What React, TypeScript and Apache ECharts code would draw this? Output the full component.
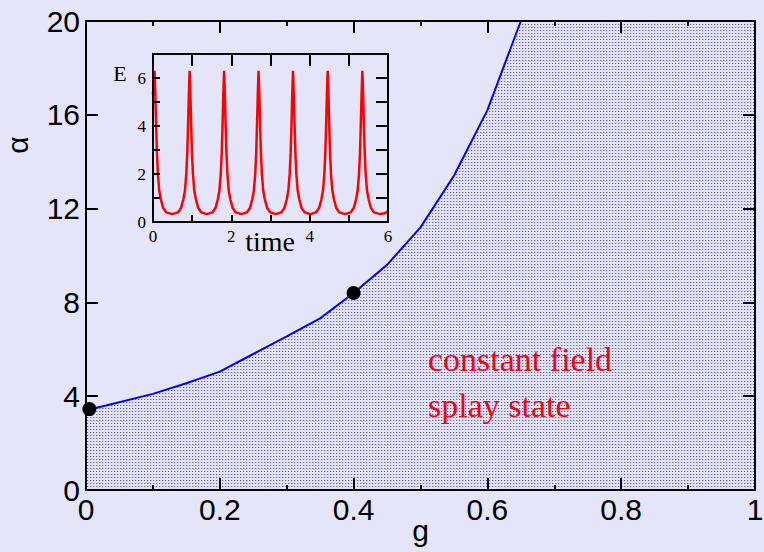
import React, { useEffect, useRef } from "react";
import * as echarts from "echarts";

// Main phase-boundary curve (g, alpha)
const boundaryG = [0, 0.03, 0.1, 0.15, 0.2, 0.25, 0.3, 0.35, 0.4, 0.45, 0.5, 0.55, 0.6, 0.65, 0.7, 1.0];
const boundaryAlpha = [3.4, 3.6, 4.1, 4.55, 5.05, 5.8, 6.55, 7.32, 8.4, 9.6, 11.2, 13.4, 16.2, 20.0, 24.5, 40.0];

// Highlighted points
const markedG = [0.005, 0.4];
const markedAlpha = [3.45, 8.4];

// Inset: energy vs time
const insetTime = [
  0, 0.02, 0.04, 0.06, 0.08, 0.1, 0.125, 0.16, 0.2, 0.26, 0.34, 0.49,
  0.635, 0.715, 0.775, 0.815, 0.85, 0.875, 0.895, 0.915, 0.935, 0.955, 0.975, 0.995, 1.02, 1.055, 1.095, 1.155, 1.235, 1.375,
  1.515, 1.595, 1.655, 1.695, 1.73, 1.755, 1.775, 1.795, 1.815, 1.835, 1.855, 1.875, 1.9, 1.935, 1.975, 2.035, 2.115, 2.255,
  2.395, 2.475, 2.535, 2.575, 2.61, 2.635, 2.655, 2.675, 2.695, 2.715, 2.735, 2.755, 2.78, 2.815, 2.855, 2.915, 2.995, 3.135,
  3.275, 3.355, 3.415, 3.455, 3.49, 3.515, 3.535, 3.555, 3.575, 3.595, 3.615, 3.635, 3.66, 3.695, 3.735, 3.795, 3.875, 4.015,
  4.16, 4.24, 4.3, 4.34, 4.375, 4.4, 4.42, 4.44, 4.46, 4.48, 4.5, 4.52, 4.545, 4.58, 4.62, 4.68, 4.76, 4.9,
  5.045, 5.125, 5.185, 5.225, 5.26, 5.285, 5.305, 5.325, 5.345, 5.365, 5.385, 5.405, 5.43, 5.465, 5.505, 5.565, 5.645, 5.8, 5.92, 6.0,
];
const insetEnergy = [
  5.3, 6.0, 6.3, 5.3, 4.0, 2.9, 2.0, 1.3, 0.95, 0.58, 0.4, 0.33,
  0.4, 0.58, 0.95, 1.3, 2.0, 2.9, 4.0, 5.3, 6.3, 5.3, 4.0, 2.9, 2.0, 1.3, 0.95, 0.58, 0.4, 0.33,
  0.4, 0.58, 0.95, 1.3, 2.0, 2.9, 4.0, 5.3, 6.3, 5.3, 4.0, 2.9, 2.0, 1.3, 0.95, 0.58, 0.4, 0.33,
  0.4, 0.58, 0.95, 1.3, 2.0, 2.9, 4.0, 5.3, 6.3, 5.3, 4.0, 2.9, 2.0, 1.3, 0.95, 0.58, 0.4, 0.33,
  0.4, 0.58, 0.95, 1.3, 2.0, 2.9, 4.0, 5.3, 6.3, 5.3, 4.0, 2.9, 2.0, 1.3, 0.95, 0.58, 0.4, 0.33,
  0.4, 0.58, 0.95, 1.3, 2.0, 2.9, 4.0, 5.3, 6.3, 5.3, 4.0, 2.9, 2.0, 1.3, 0.95, 0.58, 0.4, 0.33,
  0.4, 0.58, 0.95, 1.3, 2.0, 2.9, 4.0, 5.3, 6.3, 5.3, 4.0, 2.9, 2.0, 1.3, 0.95, 0.58, 0.4, 0.33, 0.36, 0.44,
];

const annotationLines = ["constant field", "splay state"];

const BG = "#e5e5f9";
const SANS = "'Liberation Sans', Arial, sans-serif";
const SERIF = "'Liberation Serif', 'Times New Roman', serif";

// layout
const MAIN = { left: 86, top: 21, width: 669, height: 469 };
const INSET = { left: 153, top: 54, width: 235, height: 168 };

function makePattern(): HTMLCanvasElement {
  const c = document.createElement("canvas");
  c.width = 3;
  c.height = 3;
  const ctx = c.getContext("2d")!;
  ctx.fillStyle = BG;
  ctx.fillRect(0, 0, 3, 3);
  ctx.fillStyle = "rgb(95,95,245)";
  ctx.fillRect(0, 0, 1, 1);
  ctx.fillStyle = "rgb(190,190,248)";
  ctx.fillRect(1, 0, 1, 1);
  return c;
}

export default function App() {
  const ref = useRef<HTMLDivElement>(null);

  useEffect(() => {
    if (!ref.current) return;
    const chart = echarts.init(ref.current, null, { renderer: "svg" });

    const mainData = boundaryG.map((g, i) => [g, boundaryAlpha[i]]);
    const dots = markedG.map((g, i) => [g, markedAlpha[i]]);
    const insetData = insetTime.map((t, i) => [t, insetEnergy[i]]);

    const line = { show: true, onZero: false, lineStyle: { color: "#000", width: 2 } };
    const noLine = { show: false, onZero: false };
    const tick = (len: number) => ({ show: true, length: len, lineStyle: { color: "#000", width: 2 } });
    const minor = (len: number) => ({ show: true, splitNumber: 2, length: len, lineStyle: { color: "#000", width: 2 } });
    const hidden = { show: false };

    // axis placed on the opposite side (negative offset) so that its outward ticks point into the grid
    const xTickAxis = (grid: number, pos: "top" | "bottom", h: number, min: number, max: number, interval: number, len: number, mlen: number, showLine: boolean) => ({
      type: "value", gridIndex: grid, position: pos, offset: -h, min, max, interval, z: 10,
      axisLine: showLine ? line : noLine, axisTick: tick(len), minorTick: minor(mlen),
      splitLine: hidden, axisLabel: hidden,
    });
    const yTickAxis = (grid: number, pos: "left" | "right", w: number, min: number, max: number, interval: number, len: number, mlen: number | null, showLine: boolean) => ({
      type: "value", gridIndex: grid, position: pos, offset: -w, min, max, interval, z: 10,
      axisLine: showLine ? line : noLine, axisTick: tick(len),
      minorTick: mlen === null ? hidden : minor(mlen),
      splitLine: hidden, axisLabel: hidden,
    });

    const pattern = makePattern();

    chart.setOption({
      animation: false,
      backgroundColor: BG,
      grid: [
        { ...MAIN, show: false, outerBoundsMode: "none", containLabel: false },
        { ...INSET, show: false, outerBoundsMode: "none", containLabel: false },
      ],
      xAxis: [
        {
          type: "value", gridIndex: 0, position: "bottom", min: 0, max: 1, interval: 0.2, z: 10,
          axisLine: line, axisTick: hidden, splitLine: hidden,
          axisLabel: { color: "#000", fontSize: 30, fontFamily: SANS, margin: 4 },
          name: "g", nameLocation: "middle", nameGap: 25, nameMoveOverlap: false,
          nameTextStyle: { color: "#000", fontSize: 30, fontFamily: SANS },
        },
        xTickAxis(0, "top", MAIN.height, 0, 1, 0.2, 12, 5, false),
        xTickAxis(0, "bottom", MAIN.height, 0, 1, 0.2, 12, 5, true),
        {
          type: "value", gridIndex: 1, position: "bottom", min: 0, max: 6, interval: 2, z: 10,
          axisLine: line, axisTick: hidden, splitLine: hidden,
          axisLabel: { color: "#000", fontSize: 17, fontFamily: SERIF, margin: 6 },
        },
        xTickAxis(1, "top", INSET.height, 0, 6, 2, 7, 7, false),
        xTickAxis(1, "bottom", INSET.height, 0, 6, 2, 12, 12, true),
      ],
      yAxis: [
        {
          type: "value", gridIndex: 0, position: "left", min: 0, max: 20, interval: 4, z: 10,
          axisLine: line, axisTick: hidden, splitLine: hidden,
          axisLabel: { color: "#000", fontSize: 30, fontFamily: SANS, margin: 6 },
        },
        yTickAxis(0, "right", MAIN.width, 0, 20, 4, 12, null, false),
        yTickAxis(0, "left", MAIN.width, 0, 20, 4, 12, null, true),
        {
          type: "value", gridIndex: 1, position: "left", min: 0, max: 7, interval: 2, z: 10,
          axisLine: line, axisTick: hidden, splitLine: hidden,
          axisLabel: { color: "#000", fontSize: 17, fontFamily: SERIF, margin: 7, showMaxLabel: false },
        },
        yTickAxis(1, "right", INSET.width, 0, 7, 2, 7, 7, false),
        yTickAxis(1, "left", INSET.width, 0, 7, 2, 12, 12, true),
      ],
      series: [
        {
          type: "line", xAxisIndex: 0, yAxisIndex: 0, data: mainData, showSymbol: false, clip: true,
          lineStyle: { color: "#0000ff", width: 2 },
          areaStyle: { color: { image: pattern, repeat: "repeat" }, opacity: 1 },
          z: 2,
        },
        {
          type: "scatter", xAxisIndex: 0, yAxisIndex: 0, data: dots, symbolSize: 14, clip: false,
          itemStyle: { color: "#000", opacity: 1 }, z: 12,
        },
        {
          type: "line", xAxisIndex: 3, yAxisIndex: 3, data: insetData, showSymbol: false,
          lineStyle: { color: "#ff0000", width: 2.5 }, z: 3,
        },
      ],
      graphic: [
        {
          type: "text", x: 17, y: 145, rotation: Math.PI / 2, z: 20,
          style: { text: "α", font: `30px ${SANS}`, fill: "#000", align: "center", verticalAlign: "middle" },
        },
        {
          type: "text", x: 120, y: 73, z: 20,
          style: { text: "E", font: `22px ${SERIF}`, fill: "#000", align: "center", verticalAlign: "middle" },
        },
        {
          type: "text", x: 270, y: 241, z: 20,
          style: { text: "time", font: `28px ${SERIF}`, fill: "#000", align: "center", verticalAlign: "middle" },
        },
        ...annotationLines.map((t, i) => ({
          type: "text", x: 428, y: 359 + i * 46, z: 20,
          style: { text: t, font: `34px ${SERIF}`, fill: "#ff0000", align: "left", verticalAlign: "middle" },
        })),
      ],
    });

    return () => chart.dispose();
  }, []);

  return <div ref={ref} style={{ width: 764, height: 552, position: "absolute", left: 0, top: 0 }} />;
}
